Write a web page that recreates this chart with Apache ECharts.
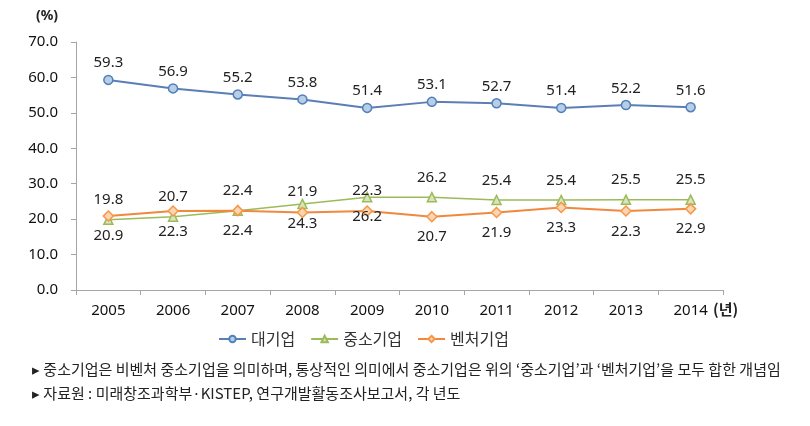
<!DOCTYPE html>
<html><head><meta charset="utf-8">
<script src="https://cdn.jsdelivr.net/npm/echarts@6/dist/echarts.min.js"></script>
<style>html,body{margin:0;padding:0;background:#fff}#c{width:810px;height:426px}</style>
</head><body><div id="c"></div>
<script>
const years = ['2005','2006','2007','2008','2009','2010','2011','2012','2013','2014'];
const large = [59.3,56.9,55.2,53.8,51.4,53.1,52.7,51.4,52.2,51.6];
const sme = [19.8,20.7,22.4,24.3,26.2,26.2,25.4,25.4,25.5,25.5];
const venture = [20.9,22.3,22.4,21.9,22.3,20.7,21.9,23.3,22.3,22.9];
const seriesNames = ['대기업','중소기업','벤처기업'];
const yTicks = {min:0, max:70, interval:10};
const notes = [
  '▸ 중소기업은 비벤처 중소기업을 의미하며, 통상적인 의미에서 중소기업은 위의 ‘중소기업’과 ‘벤처기업’을 모두 합한 개념임',
  '▸ 자료원 : 미래창조과학부·KISTEP, 연구개발활동조사보고서, 각 년도'
];
// label placement: in the source, labels for 2008 and 2009 are swapped between the two lower series
const swapIdx = [3,4];

const font = '"Noto Sans", "Noto Sans CJK KR", sans-serif';
const kfont = '"Noto Sans CJK KR", sans-serif';
const lblStyle = {color:'#222', fontSize:15, fontFamily:font};

function mk(vals, defPos, altPos){
  return vals.map((v,i)=>({value:v, label:{position: swapIdx.includes(i)?altPos:defPos}}));
}

const chart = echarts.init(document.getElementById('c'));
chart.setOption({
  animation:false,
  textStyle:{fontFamily:font},
  grid:{left:76, right:87, top:42, bottom:136},
  legend:{
    left:213, top:326, itemGap:15, itemWidth:27, itemHeight:8,
    textStyle:{fontSize:16, color:'#333', fontFamily:kfont},
    data:seriesNames
  },
  xAxis:{
    type:'category', data:years, boundaryGap:true,
    axisLine:{lineStyle:{color:'#a6a6a6', width:1}},
    axisTick:{show:true, length:5, lineStyle:{color:'#a6a6a6'}},
    axisLabel:{color:'#111', fontSize:15, fontFamily:font, margin:13}
  },
  yAxis:{
    type:'value', min:yTicks.min, max:yTicks.max, interval:yTicks.interval,
    axisLine:{show:true, lineStyle:{color:'#a6a6a6'}},
    axisTick:{show:true, length:5, lineStyle:{color:'#a6a6a6'}},
    splitLine:{show:false},
    axisLabel:{color:'#111', fontSize:15, fontFamily:font, margin:18, formatter:v=>v.toFixed(1)}
  },
  graphic:[
    {type:'text', left:36, top:9, style:{text:'(%)', font:'bold 14px '+font, fill:'#222'}},
    {type:'text', left:713, top:302, style:{text:'(년)', font:'bold 15px '+kfont, fill:'#222'}},
    {type:'text', left:32, top:362, style:{text:notes[0], font:'15px '+kfont, fill:'#222'}},
    {type:'text', left:32, top:386, style:{text:notes[1], font:'15px '+kfont, fill:'#222'}}
  ],
  series:[
    {name:seriesNames[0], type:'line', data:large, symbol:'circle', symbolSize:9,
     lineStyle:{color:'#5b7fb5', width:2}, itemStyle:{color:'#b9cde5', borderColor:'#4f81bd', borderWidth:1.5},
     label:{show:true, position:'top', distance:4, formatter:p=>p.value.toFixed(1), ...lblStyle}},
    {name:seriesNames[1], type:'line', data:mk(sme,'top','bottom'), symbol:'triangle', symbolSize:9,
     lineStyle:{color:'#9bbb59', width:1.5}, itemStyle:{color:'#d7e4bd', borderColor:'#9bbb59', borderWidth:1.5},
     label:{show:true, distance:7, formatter:p=>p.value.toFixed(1), ...lblStyle}},
    {name:seriesNames[2], type:'line', data:mk(venture,'bottom','top'), symbol:'diamond', symbolSize:10,
     lineStyle:{color:'#f0883e', width:2}, itemStyle:{color:'#fcd5b5', borderColor:'#f79646', borderWidth:1.5},
     label:{show:true, distance:7, formatter:p=>p.value.toFixed(1), ...lblStyle}}
  ]
});
</script></body></html>
